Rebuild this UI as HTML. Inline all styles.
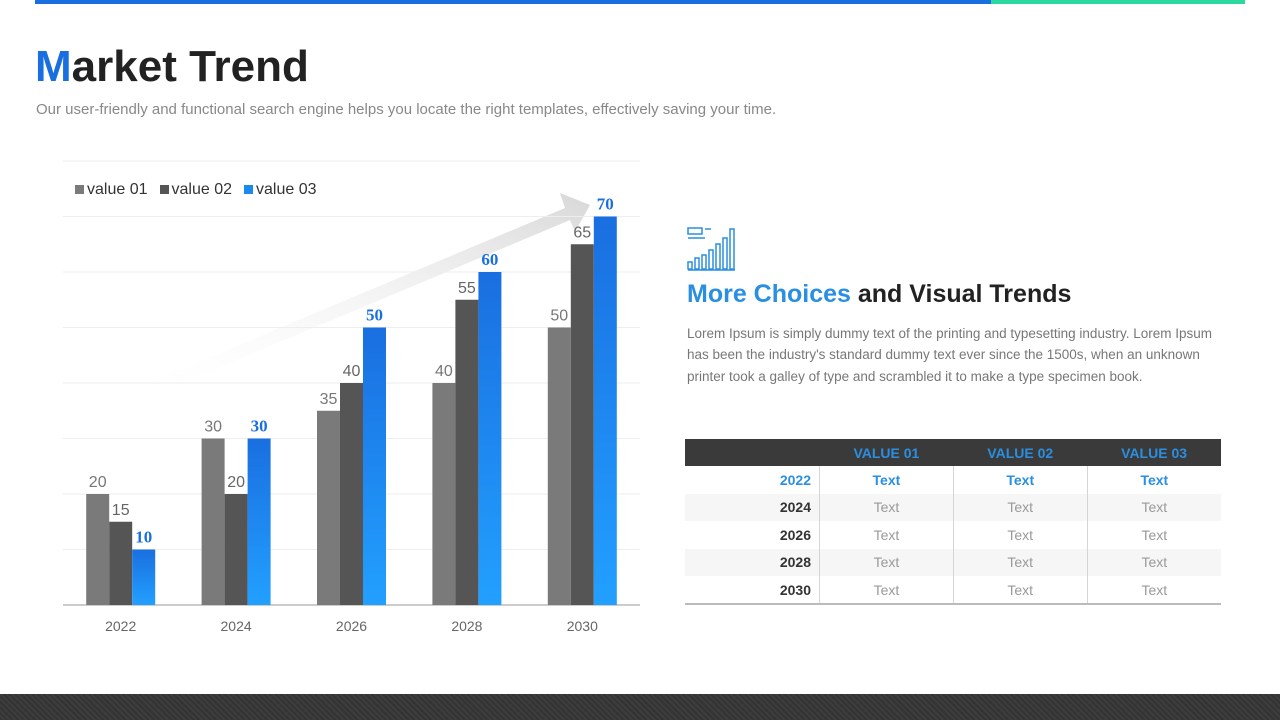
<!DOCTYPE html>
<html><head><meta charset="utf-8"><style>
body{margin:0;width:1280px;height:720px;position:relative;background:#fff;font-family:"Liberation Sans",sans-serif;overflow:hidden}
.abs{position:absolute}
table{border-collapse:collapse;position:absolute;left:685px;top:439px;width:536px;font-size:14px}
td,th{height:27.4px;padding:0;text-align:center}
th{background:#3a3a3a;color:#2a8fe0;font-weight:bold}
td{color:#999;border-left:1px solid #d5d5d5}
td:first-child{border-left:none;text-align:right;padding-right:8px;color:#333;font-weight:bold;width:126px}
tr:nth-child(odd) td{background:#f6f6f6}
tr.first td{color:#2a8fe0;font-weight:bold;background:#fff}
tr:last-child td{border-bottom:2px solid #bbb}
</style></head><body>
<div class="abs" style="left:35px;top:0;width:956px;height:4px;background:#1a6fe0"></div>
<div class="abs" style="left:991px;top:0;width:254px;height:4px;background:#2bd9a0"></div>
<div class="abs" style="left:35px;top:42px;font-size:44px;font-weight:bold;color:#222"><span style="color:#1a6fe0">M</span>arket Trend</div>
<div class="abs" style="left:36px;top:101px;font-size:15px;color:#888">Our user-friendly and functional search engine helps you locate the right templates, effectively saving your time.</div>
<svg class="abs" style="left:0;top:0" width="680" height="660" id="chart">
<defs>
<linearGradient id="bg" x1="0" y1="0" x2="0" y2="1"><stop offset="0" stop-color="#1a6fe0"/><stop offset="1" stop-color="#22a0ff"/></linearGradient>
<linearGradient id="ag" x1="0" y1="1" x2="1" y2="0"><stop offset="0" stop-color="#fff" stop-opacity="0"/><stop offset="1" stop-color="#d8d8d8"/></linearGradient>
</defs>
<polygon points="120,395 565,208 560,193 590,205 575,232 570,220 130,405" fill="url(#ag)"/>
<g id="grid"></g><g id="bars"></g>
</svg>
<div class="abs" style="left:75px;top:181px;font-size:16px;color:#333;display:flex;gap:12px">
<span><i style="display:inline-block;width:9px;height:9px;background:#7a7a7a;margin-right:3px"></i>value 01</span>
<span><i style="display:inline-block;width:9px;height:9px;background:#555;margin-right:3px"></i>value 02</span>
<span><i style="display:inline-block;width:9px;height:9px;background:#1a8af0;margin-right:3px"></i>value 03</span>
</div>
<svg class="abs" style="left:687px;top:226px" width="50" height="46" fill="none" stroke="#2a8fe0" stroke-width="1.5">
<rect x="1" y="2" width="14" height="6"/><line x1="18" y1="3" x2="24" y2="3"/><line x1="1" y1="12" x2="18" y2="12"/><line x1="1" y1="44" x2="48" y2="44"/>
<rect x="1" y="36" width="4" height="7"/><rect x="8" y="32" width="4" height="11"/><rect x="15" y="29" width="4" height="14"/><rect x="22" y="24" width="4" height="19"/><rect x="29" y="18" width="4" height="25"/><rect x="36" y="12" width="4" height="31"/><rect x="43" y="3" width="4" height="40"/>
</svg>
<div class="abs" style="left:687px;top:280px;font-size:25px;font-weight:bold;color:#222"><span style="color:#2a8fe0">More Choices</span> and Visual Trends</div>
<div class="abs" style="left:687px;top:323px;width:530px;font-size:13.5px;line-height:21.3px;color:#777">Lorem Ipsum is simply dummy text of the printing and typesetting industry. Lorem Ipsum has been the industry's standard dummy text ever since the 1500s, when an unknown printer took a galley of type and scrambled it to make a type specimen book.</div>
<table>
<tr><th></th><th>VALUE 01</th><th>VALUE 02</th><th>VALUE 03</th></tr>
<tr class="first"><td>2022</td><td>Text</td><td>Text</td><td>Text</td></tr>
<tr><td>2024</td><td>Text</td><td>Text</td><td>Text</td></tr>
<tr style="background:#fff"><td style="background:#fff">2026</td><td style="background:#fff">Text</td><td style="background:#fff">Text</td><td style="background:#fff">Text</td></tr>
<tr><td>2028</td><td>Text</td><td>Text</td><td>Text</td></tr>
<tr><td style="background:#fff">2030</td><td style="background:#fff">Text</td><td style="background:#fff">Text</td><td style="background:#fff">Text</td></tr>
</table>
<div class="abs" style="left:0;top:694px;width:1280px;height:26px;background:repeating-linear-gradient(45deg,#333 0 2px,#3d3d3d 2px 4px)"></div>
<script>
const categories=["2022","2024","2026","2028","2030"];
const value01=[20,30,35,40,50];
const value02=[15,20,40,55,65];
const value03=[10,30,50,60,70];
const gridTicks=[0,10,20,30,40,50,60,70,80];
const NS="http://www.w3.org/2000/svg";
const x0=63,x1=640,y0=605,yMax=80,plotH=444;
const y=v=>y0-v/yMax*plotH;
const band=(x1-x0)/categories.length;
const cx=i=>x0+band*(i+0.5);
const grid=document.getElementById('grid'),bars=document.getElementById('bars');
function mk(tag,attrs,parent){const e=document.createElementNS(NS,tag);for(const k in attrs)e.setAttribute(k,attrs[k]);parent.appendChild(e);return e;}
gridTicks.forEach(t=>{const l=mk('line',{x1:x0,x2:x1,y1:y(t),y2:y(t),stroke:t===0?'#999':'#eee','stroke-width':1},grid);

});
const series=[[value01,'#7a7a7a','#777'],[value02,'#555','#666'],[value03,'url(#bg)','#1a6fe0']];
const bw=23;
categories.forEach((c,i)=>{
 series.forEach((s,j)=>{
  const v=s[0][i],bx=cx(i)-bw*1.5+j*bw;
  const r=mk('rect',{x:bx,y:y(v),width:bw,height:y0-y(v),fill:s[1]},bars);
  
  
  const t=mk('text',{x:bx+bw/2,y:y(v)-7,'text-anchor':'middle','font-size':j===2?17:16,fill:s[2],'font-weight':j===2?'bold':'normal','font-family':j===2?'Liberation Serif,serif':'Liberation Sans,sans-serif'},bars);
  t.textContent=v;
  
  
 });
 const t=mk('text',{x:cx(i),y:631,'text-anchor':'middle','font-size':14,fill:'#666'},bars);
 t.textContent=c;
 
 
});
</script>
</body></html>
